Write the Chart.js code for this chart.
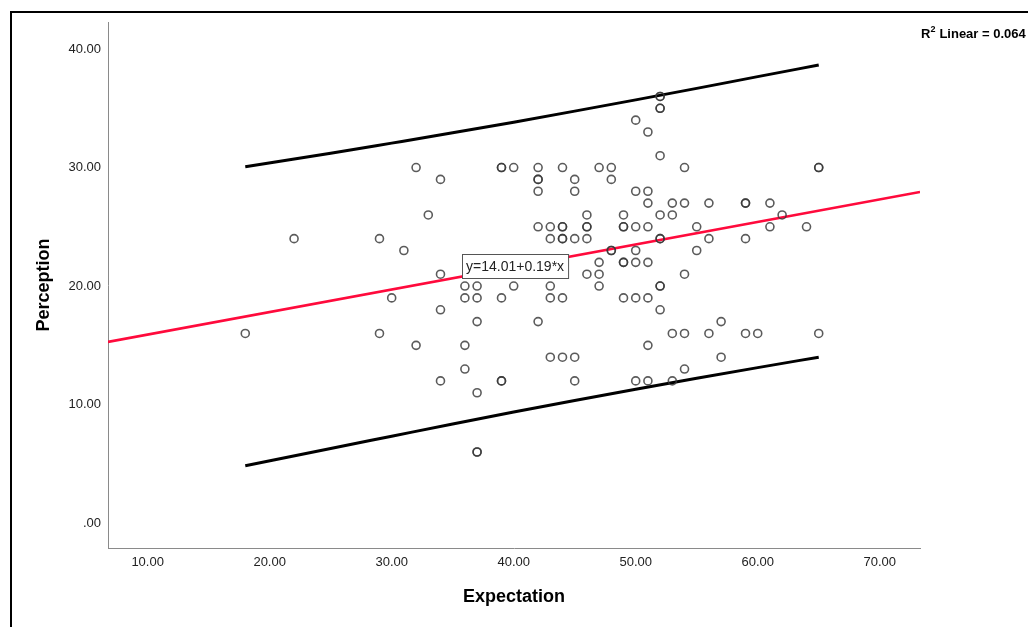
<!DOCTYPE html>
<html>
<head>
<meta charset="utf-8">
<style>
  html, body { margin: 0; padding: 0; background: #fff; }
  #wrap { width: 1028px; height: 627px; position: relative; }
</style>
<script src="https://cdn.jsdelivr.net/npm/chart.js@4.4.0/dist/chart.umd.min.js"></script>
</head>
<body>
<div id="wrap"><canvas id="scatterChart" width="1028" height="627"></canvas></div>
<script>
// observed cases (Expectation, Perception); repeats are overlapping cases
const expectation = [
  52, 52,
  52, 52,
  50,
  51,
  52,
  32, 39, 39, 40, 42, 44, 47, 48, 54, 65, 65,
  34, 42, 42, 45, 48,
  42, 45, 50, 51,
  51, 53, 54, 56, 59, 59, 61,
  33, 46, 49, 52, 53, 62,
  42, 43, 44, 44, 46, 46, 49, 49, 50, 51, 55, 61, 64,
  22, 29, 43, 44, 44, 45, 46, 52, 52, 56, 59,
  31, 48, 48, 50, 55,
  47, 49, 49, 50, 51,
  34, 46, 47, 54,
  36, 37, 40, 43, 47, 52, 52,
  30, 36, 37, 39, 43, 44, 49, 50, 51,
  34, 52,
  37, 42, 57,
  18, 29, 53, 54, 56, 59, 60, 65,
  32, 36, 51,
  43, 44, 45, 57,
  36, 54,
  34, 39, 39, 45, 50, 51, 53,
  37,
  37, 37
];
const perception = [
  36, 36,
  35, 35,
  34,
  33,
  31,
  30, 30, 30, 30, 30, 30, 30, 30, 30, 30, 30,
  29, 29, 29, 29, 29,
  28, 28, 28, 28,
  27, 27, 27, 27, 27, 27, 27,
  26, 26, 26, 26, 26, 26,
  25, 25, 25, 25, 25, 25, 25, 25, 25, 25, 25, 25, 25,
  24, 24, 24, 24, 24, 24, 24, 24, 24, 24, 24,
  23, 23, 23, 23, 23,
  22, 22, 22, 22, 22,
  21, 21, 21, 21,
  20, 20, 20, 20, 20, 20, 20,
  19, 19, 19, 19, 19, 19, 19, 19, 19,
  18, 18,
  17, 17, 17,
  16, 16, 16, 16, 16, 16, 16, 16,
  15, 15, 15,
  14, 14, 14, 14,
  13, 13,
  12, 12, 12, 12, 12, 12, 12,
  11,
  6, 6
];

// fit line end points (at the axis limits)
const fitX = [6.75, 73.3];
const fitY = [15.29, 27.94];

// prediction interval curves
const bandX  = [18, 25, 30, 35, 40, 45, 50, 55, 60, 65];
const upperY = [30.07, 31.2, 32.06, 32.93, 33.83, 34.76, 35.71, 36.68, 37.67, 38.65];
const lowerY = [4.84, 6.3, 7.33, 8.36, 9.37, 10.35, 11.3, 12.22, 13.12, 14.0];

const xTicks = [10, 20, 30, 40, 50, 60, 70];
const yTicks = [0, 10, 20, 30, 40];

const xTitle = 'Expectation';
const yTitle = 'Perception';
const equationText = 'y=14.01+0.19*x';
const r2Text = '0.064';

const fontFamily = "'Liberation Sans', Arial, sans-serif";

const toPoints = (xs, ys) => xs.map((x, i) => ({ x: x, y: ys[i] }));

const fmt = v => (v === 0 ? '.00' : v.toFixed(2));

const decorations = {
  id: 'decorations',
  afterDraw(chart) {
    const c = chart.ctx;
    c.save();
    // outer frame (runs off the right and bottom edges)
    c.strokeStyle = '#000';
    c.lineWidth = 2;
    c.strokeRect(11, 12, 1100, 700);

    // R² label top-right
    c.fillStyle = '#000';
    c.textBaseline = 'alphabetic';
    c.textAlign = 'left';
    c.font = 'bold 13px ' + fontFamily;
    let x = 921;
    c.fillText('R', x, 38);
    x += c.measureText('R').width;
    c.font = 'bold 9px ' + fontFamily;
    c.fillText('2', x, 32);
    x += c.measureText('2').width + 4;
    c.font = 'bold 13px ' + fontFamily;
    c.fillText('Linear = ' + r2Text, x, 38);

    // equation box on the fit line
    c.font = '14px ' + fontFamily;
    const w = c.measureText(equationText).width + 8;
    const bx = 462, by = 254, bh = 24;
    c.fillStyle = '#fff';
    c.fillRect(bx, by, w, bh);
    c.strokeStyle = '#555';
    c.lineWidth = 1;
    c.strokeRect(bx + 0.5, by + 0.5, w, bh);
    c.fillStyle = '#222';
    c.textBaseline = 'middle';
    c.fillText(equationText, bx + 4, by + bh / 2 + 1);
    c.restore();
  }
};

const ctx = document.getElementById('scatterChart').getContext('2d');

new Chart(ctx, {
  type: 'scatter',
  data: {
    datasets: [
      {
        label: 'Observed',
        data: toPoints(expectation, perception),
        pointRadius: 4,
        pointBorderWidth: 1.6,
        pointBorderColor: 'rgba(55, 55, 55, 0.82)',
        pointBackgroundColor: 'rgba(0,0,0,0)',
        showLine: false
      },
      {
        label: 'Linear',
        data: toPoints(fitX, fitY),
        showLine: true,
        borderColor: '#ff0a3c',
        borderWidth: 2.6,
        pointRadius: 0
      },
      {
        label: 'Upper',
        data: toPoints(bandX, upperY),
        showLine: true,
        borderColor: '#000',
        borderWidth: 3,
        pointRadius: 0,
        cubicInterpolationMode: 'monotone'
      },
      {
        label: 'Lower',
        data: toPoints(bandX, lowerY),
        showLine: true,
        borderColor: '#000',
        borderWidth: 3,
        pointRadius: 0,
        cubicInterpolationMode: 'monotone'
      }
    ]
  },
  options: {
    responsive: false,
    animation: false,
    layout: { padding: { left: 0, top: 22, right: 108, bottom: 0 } },
    plugins: {
      legend: { display: false },
      tooltip: { enabled: false }
    },
    scales: {
      x: {
        type: 'linear',
        min: 6.75,
        max: 73.3,
        afterBuildTicks: s => { s.ticks = xTicks.map(v => ({ value: v })); },
        afterFit: s => { s.height = 79; },
        grid: { display: false, drawTicks: false },
        border: { display: true, color: '#8a8a8a', width: 1 },
        ticks: {
          callback: v => fmt(v),
          color: '#222',
          padding: 7,
          maxRotation: 0,
          autoSkip: false,
          font: { family: fontFamily, size: 13 }
        },
        title: {
          display: true,
          text: xTitle,
          color: '#000',
          font: { family: fontFamily, size: 18, weight: 'bold' },
          padding: { top: 0, bottom: 19 }
        }
      },
      y: {
        type: 'linear',
        min: -2.1,
        max: 42.28,
        afterBuildTicks: s => { s.ticks = yTicks.map(v => ({ value: v })); },
        afterFit: s => { s.width = 108; },
        grid: { display: false, drawTicks: false },
        border: { display: true, color: '#8a8a8a', width: 1 },
        ticks: {
          callback: v => fmt(v),
          color: '#222',
          padding: 7,
          autoSkip: false,
          font: { family: fontFamily, size: 13 }
        },
        title: {
          display: true,
          text: yTitle,
          color: '#000',
          font: { family: fontFamily, size: 18, weight: 'bold' },
          padding: { top: 33, bottom: 0 }
        }
      }
    }
  },
  plugins: [decorations]
});
</script>
</body>
</html>
